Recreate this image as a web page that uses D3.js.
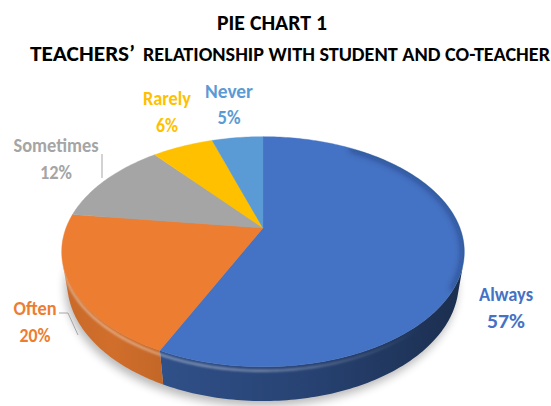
<!DOCTYPE html>
<html>
<head>
<meta charset="utf-8">
<script src="https://cdn.jsdelivr.net/npm/d3@7"></script>
<style>
  html, body { margin: 0; padding: 0; background: #ffffff; }
  svg { display: block; }
  text { font-family: Carlito, Calibri, Lato, "Open Sans", sans-serif; font-weight: 700; }
</style>
</head>
<body>
<svg id="chart" width="551" height="406"></svg>
<script>
// ---- data ----
const categories = ["Always", "Often", "Sometimes", "Rarely", "Never"];
const values = [57, 20, 12, 6, 5];
const percentLabels = ["57%", "20%", "12%", "6%", "5%"];
const colors = ["#4472C4", "#ED7D31", "#A5A5A5", "#FFC000", "#5B9BD5"];
const titleMain = "PIE CHART 1";
const titleLead = "TEACHERS\u2019";
const titleRest = "RELATIONSHIP WITH STUDENT AND CO-TEACHER";

// ---- 3D pie geometry (perspective view of a flat cylinder) ----
const cx = 263, cy = 228, S = 197;
const tilt = 34 * Math.PI / 180;
const persp = 0.249;      // radius / camera distance
const thick = 0.195;      // wall height / radius

// point on the disc at angle theta (clockwise from 12 o'clock), radius r, height h
function project(theta, h, r = 1) {
  const X = r * Math.sin(theta), Z = r * Math.cos(theta);
  const d = 1 + persp * (Z * Math.cos(tilt) - h * Math.sin(tilt));
  return [cx + S * X / d, cy - S * (Z * Math.sin(tilt) + h * Math.cos(tilt)) / d];
}
function arcPts(a0, a1, h) {
  const n = Math.max(2, Math.ceil(Math.abs(a1 - a0) / (Math.PI / 180)));
  return d3.range(n + 1).map(i => project(a0 + (a1 - a0) * i / n, h));
}
// outer wall faces the viewer where cos(theta) < -persp / cos(tilt)
const visLo = Math.acos(-persp / Math.cos(tilt));
const visHi = 2 * Math.PI - visLo;

const svg = d3.select("#chart");
const defs = svg.append("defs");
function addBlur(id, sd) {
  defs.append("filter").attr("id", id)
    .attr("x", "-30%").attr("y", "-30%").attr("width", "160%").attr("height", "160%")
    .append("feGaussianBlur").attr("stdDeviation", sd);
}
addBlur("shadowBlur", 5);
addBlur("rimBlur", 0.9);
addBlur("edgeBlur", 3);

const line = d3.line();
const pie = d3.pie().sort(null).value(d => d).startAngle(0).endAngle(2 * Math.PI);
const slices = pie(values);

// ---- soft drop shadow ----
const basePts = arcPts(0, 2 * Math.PI, -thick);
svg.append("path")
  .attr("d", line(basePts) + "Z")
  .attr("transform", "translate(-2,5)")
  .attr("fill", "#000").attr("opacity", 0.28)
  .attr("filter", "url(#shadowBlur)");

// ---- side walls ----
const wallShade = {
  0: [0.70, 0.58, 0.40],
  1: [0.85, 0.88, 0.82]
};
const wallG = svg.append("g");
slices.forEach((s, i) => {
  const v0 = Math.max(s.startAngle, visLo), v1 = Math.min(s.endAngle, visHi);
  if (v0 >= v1) return;
  const top = arcPts(v0, v1, 0), bot = arcPts(v0, v1, -thick).reverse();
  const pts = top.concat(bot);
  const xs = pts.map(p => p[0]);
  const x0 = d3.min(xs), x1 = d3.max(xs);
  const shade = wallShade[i] || [0.7, 0.6, 0.5];
  const base = d3.rgb(colors[i]);
  const gid = "wall" + i;
  const g = defs.append("linearGradient").attr("id", gid)
    .attr("gradientUnits", "userSpaceOnUse")
    .attr("x1", x0).attr("x2", x1).attr("y1", 0).attr("y2", 0);
  shade.forEach((f, k) => {
    g.append("stop").attr("offset", k / (shade.length - 1))
      .attr("stop-color", d3.rgb(base.r * f, base.g * f, base.b * f));
  });
  wallG.append("path").attr("d", line(pts) + "Z").attr("fill", `url(#${gid})`);
});

// highlight along the bevelled front rim
const rimGrad = defs.append("linearGradient").attr("id", "rimGrad")
  .attr("gradientUnits", "userSpaceOnUse").attr("x1", 62).attr("x2", 420).attr("y1", 0).attr("y2", 0);
rimGrad.append("stop").attr("offset", 0).attr("stop-color", "#fff").attr("stop-opacity", 0.45);
rimGrad.append("stop").attr("offset", 0.55).attr("stop-color", "#fff").attr("stop-opacity", 0.35);
rimGrad.append("stop").attr("offset", 1).attr("stop-color", "#fff").attr("stop-opacity", 0);
svg.append("path")
  .attr("d", line(arcPts(visLo + 0.05, visHi - 0.02, -0.022)))
  .attr("fill", "none").attr("stroke", "url(#rimGrad)").attr("stroke-width", 2.4)
  .attr("filter", "url(#rimBlur)");

// ---- top faces ----
const centre = project(0, 0, 0);
const topG = svg.append("g");
slices.forEach((s, i) => {
  const pts = [centre].concat(arcPts(s.startAngle, s.endAngle, 0));
  topG.append("path").attr("d", line(pts) + "Z")
    .attr("fill", colors[i]).attr("stroke", colors[i]).attr("stroke-width", 0.4);
});

// darkening where the top face rolls over on the right
const topClip = defs.append("clipPath").attr("id", "topClip");
topClip.append("path").attr("d", line(arcPts(0, 2 * Math.PI, 0)) + "Z");
svg.append("g").attr("clip-path", "url(#topClip)")
  .append("path")
  .attr("d", line(arcPts(0.55, 2.1, 0)))
  .attr("fill", "none").attr("stroke", "#0b1a3a").attr("stroke-opacity", 0.4)
  .attr("stroke-width", 6).attr("filter", "url(#edgeBlur)");

// ---- titles ----
svg.append("text").attr("x", 217).attr("y", 30)
  .attr("font-size", 23).attr("fill", "#000")
  .attr("textLength", 110).attr("lengthAdjust", "spacingAndGlyphs")
  .text(titleMain);
svg.append("text").attr("x", 30).attr("y", 60.5)
  .attr("font-size", 22.5).attr("fill", "#000")
  .attr("textLength", 105).attr("lengthAdjust", "spacingAndGlyphs")
  .text(titleLead);
svg.append("text").attr("x", 143).attr("y", 60.5)
  .attr("font-size", 19.5).attr("fill", "#000")
  .attr("textLength", 407).attr("lengthAdjust", "spacingAndGlyphs")
  .text(titleRest);

// ---- leader lines ----
const leaders = [
  [[102, 154], [102, 178]],
  [[59, 313], [68, 313], [78, 335]]
];
svg.append("g").selectAll("path").data(leaders).join("path")
  .attr("d", d => line(d)).attr("fill", "none")
  .attr("stroke", "#A6A6A6").attr("stroke-width", 1);

// ---- data labels ----
const labelPos = [
  { x: 506, y: 301, w1: 54, w2: 38 },
  { x: 35, y: 315, w1: 43, w2: 31 },
  { x: 56, y: 152, w1: 85, w2: 32 },
  { x: 167, y: 105, w1: 48, w2: 22 },
  { x: 229, y: 97.5, w1: 48, w2: 23 }
];
const lab = svg.append("g").attr("text-anchor", "middle").attr("font-size", 20);
slices.forEach((s, i) => {
  const p = labelPos[i];
  lab.append("text").attr("x", p.x).attr("y", p.y).attr("fill", colors[i])
    .attr("textLength", p.w1).attr("lengthAdjust", "spacingAndGlyphs")
    .text(categories[i]);
  lab.append("text").attr("x", p.x).attr("y", p.y + 26.5).attr("fill", colors[i])
    .attr("textLength", p.w2).attr("lengthAdjust", "spacingAndGlyphs")
    .text(percentLabels[i]);
});
</script>
</body>
</html>
